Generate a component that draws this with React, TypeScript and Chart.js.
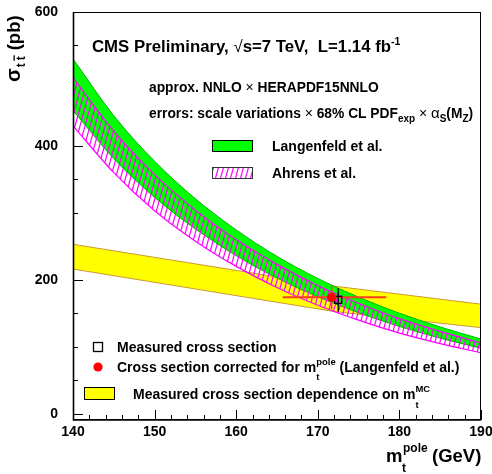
import React, { useEffect, useRef } from "react";
import { Chart, registerables } from "chart.js";

Chart.register(...registerables);

// ---- data ----
const massGrid = [140, 145, 150, 155, 160, 165, 170, 175, 180, 185, 190];
const langenfeldHigh = [530, 445, 377, 321, 274.5, 235, 202, 174, 150, 129.5, 111.5];
const langenfeldLow = [453, 381, 323, 276, 236, 202.6, 174.6, 150.8, 130.3, 112.8, 97.6];
const ahrensHigh = [502, 422, 357, 304, 260, 223, 191.5, 165, 142, 123, 105.7];
const ahrensLow = [430, 360, 303, 257.6, 220, 188.5, 162, 139.6, 120.3, 104.7, 91];

const mcMass = [140, 172, 190];
const measuredHigh = [253, 190.5, 163.5];
const measuredLow = [216, 152.5, 128.5];

const measuredPoint = { x: 172.5, y: 170, yLow: 152.5, yHigh: 187.5 };
const correctedPoint = { x: 171.7, y: 173.7, xLow: 165.7, xHigh: 178.4, yLow: 156, yHigh: 191 };

const xTickValues = [140, 150, 160, 170, 180, 190];
const yTickValues = [0, 200, 400, 600];

const FONT = '"Liberation Sans", Arial, Helvetica, sans-serif';

function pts(xs: number[], ys: number[]) {
  return xs.map((x, i) => ({ x, y: ys[i] }));
}

function makeHatch(): CanvasPattern | string {
  const c = document.createElement("canvas");
  const w = 5;
  const h = 18;
  c.width = w;
  c.height = h;
  const g = c.getContext("2d");
  if (!g) return "rgba(255,0,255,0.3)";
  g.strokeStyle = "#ff00ff";
  g.lineWidth = 1.2;
  for (const k of [-1, 0, 1]) {
    g.beginPath();
    g.moveTo(k * w, h);
    g.lineTo(k * w + w, 0);
    g.stroke();
  }
  return g.createPattern(c, "repeat") as CanvasPattern;
}

type Seg = { t: string; s: number; dy?: number; w?: string; adv?: number };

function drawRich(ctx: CanvasRenderingContext2D, x: number, y: number, segs: Seg[]) {
  let cx = x;
  for (const g of segs) {
    ctx.font = `${g.w ?? "bold"} ${g.s}px ${FONT}`;
    ctx.fillText(g.t, cx, y + (g.dy ?? 0));
    cx += g.adv !== undefined ? g.adv : ctx.measureText(g.t).width;
  }
  return cx;
}

function width(ctx: CanvasRenderingContext2D, t: string, s: number, w = "bold") {
  ctx.font = `${w} ${s}px ${FONT}`;
  return ctx.measureText(t).width;
}

function zeroPad(s: any) {
  s.paddingTop = 0;
  s.paddingBottom = 0;
  s.paddingLeft = 0;
  s.paddingRight = 0;
}

export default function App() {
  const ref = useRef<HTMLCanvasElement | null>(null);

  useEffect(() => {
    const canvas = ref.current;
    if (!canvas) return;
    const hatch = makeHatch();

    const decor = {
      id: "decor",
      beforeDatasetsDraw(chart: any) {
        const { ctx, chartArea } = chart;
        const xs = chart.scales.x;
        const ys = chart.scales.y;
        ctx.save();
        ctx.strokeStyle = "#000";
        ctx.lineWidth = 1;
        for (let v = 0; v <= 600; v += 50) {
          const py = Math.round(ys.getPixelForValue(v)) + 0.5;
          const len = v % 200 === 0 ? 10 : 5;
          ctx.beginPath();
          ctx.moveTo(chartArea.left, py);
          ctx.lineTo(chartArea.left + len, py);
          ctx.stroke();
        }
        for (let v = 140; v <= 190; v += 2) {
          const px = Math.round(xs.getPixelForValue(v)) + 0.5;
          const len = v % 10 === 0 ? 10 : 5;
          ctx.beginPath();
          ctx.moveTo(px, chartArea.bottom);
          ctx.lineTo(px, chartArea.bottom - len);
          ctx.stroke();
        }
        ctx.restore();
      },
      afterDatasetsDraw(chart: any) {
        const { ctx, chartArea } = chart;
        ctx.save();
        ctx.strokeStyle = "#000";
        ctx.lineWidth = 1;
        ctx.strokeRect(chartArea.left + 0.5, chartArea.top + 0.5, chartArea.right - chartArea.left - 1, chartArea.bottom - chartArea.top - 1);
        ctx.lineWidth = 1.6;
        ctx.beginPath();
        ctx.moveTo(chartArea.left + 0.5, chartArea.top);
        ctx.lineTo(chartArea.left + 0.5, chartArea.bottom);
        ctx.lineTo(chartArea.right, chartArea.bottom);
        ctx.stroke();
        ctx.restore();
      },
      afterDraw(chart: any) {
        const ctx: CanvasRenderingContext2D = chart.ctx;
        ctx.save();
        ctx.fillStyle = "#000";
        ctx.textBaseline = "alphabetic";
        ctx.textAlign = "left";

        // header
        drawRich(ctx, 92, 52, [
          { t: "CMS Preliminary, ", s: 16.8 },
          { t: "√", s: 16.8, w: "normal" },
          { t: "s=7 TeV,  L=1.14 fb", s: 16.8 },
          { t: "-1", s: 10.5, dy: -7 },
        ]);
        drawRich(ctx, 149, 92, [
          { t: "approx. NNLO ", s: 13.8 },
          { t: "×", s: 14, w: "normal" },
          { t: " HERAPDF15NNLO", s: 13.8 },
        ]);
        drawRich(ctx, 149, 118, [
          { t: "errors: scale variations ", s: 13.8 },
          { t: "×", s: 14, w: "normal" },
          { t: " 68% CL PDF", s: 13.8 },
          { t: "exp", s: 10, dy: 4 },
          { t: " ", s: 13.8 },
          { t: "×", s: 14, w: "normal" },
          { t: " ", s: 13.8 },
          { t: "α", s: 15, w: "normal" },
          { t: "S", s: 10, dy: 4 },
          { t: "(M", s: 13.8 },
          { t: "Z", s: 10, dy: 4 },
          { t: ")", s: 13.8 },
        ]);

        // theory legend
        ctx.fillStyle = "#00ff00";
        ctx.fillRect(212, 140, 41, 12);
        ctx.strokeStyle = "#000";
        ctx.lineWidth = 1;
        ctx.strokeRect(212.5, 140.5, 40, 11);
        ctx.fillStyle = hatch as any;
        ctx.fillRect(212, 167, 41, 12);
        ctx.strokeStyle = "#333";
        ctx.strokeRect(212.5, 167.5, 40, 11);
        ctx.fillStyle = "#000";
        drawRich(ctx, 272, 151, [{ t: "Langenfeld et al.", s: 14 }]);
        drawRich(ctx, 272, 178, [{ t: "Ahrens et al.", s: 14 }]);

        // measurement legend
        ctx.strokeStyle = "#000";
        ctx.lineWidth = 1.3;
        ctx.strokeRect(93.5, 342.5, 9, 9);
        ctx.fillStyle = "#ff0000";
        ctx.beginPath();
        ctx.arc(98, 367, 4.6, 0, Math.PI * 2);
        ctx.fill();
        ctx.fillStyle = "#ffff00";
        ctx.fillRect(84, 387, 31, 13);
        ctx.strokeStyle = "#000";
        ctx.lineWidth = 1;
        ctx.strokeRect(84.5, 387.5, 30, 12);
        ctx.fillStyle = "#000";
        drawRich(ctx, 117, 352, [{ t: "Measured cross section", s: 14 }]);
        let x = drawRich(ctx, 117, 372, [{ t: "Cross section corrected for m", s: 14 }]);
        const pw = width(ctx, "pole", 9.5);
        drawRich(ctx, x, 365, [{ t: "pole", s: 9.5 }]);
        drawRich(ctx, x, 380, [{ t: "t", s: 9.5 }]);
        drawRich(ctx, x + pw, 372, [{ t: " (Langenfeld et al.)", s: 14 }]);
        x = drawRich(ctx, 133, 399, [{ t: "Measured cross section dependence on m", s: 14 }]);
        drawRich(ctx, x, 392, [{ t: "MC", s: 9.5 }]);
        drawRich(ctx, x, 408, [{ t: "t", s: 9.5 }]);

        // x axis title
        drawRich(ctx, 386, 462, [{ t: "m", s: 18.5 }]);
        drawRich(ctx, 403, 452, [{ t: "pole", s: 12 }]);
        drawRich(ctx, 402, 472, [{ t: "t", s: 12 }]);
        drawRich(ctx, 432, 462, [{ t: "(GeV)", s: 18.5 }]);

        // y axis title (rotated)
        ctx.translate(19.5, 82);
        ctx.rotate(-Math.PI / 2);
        let yx = drawRich(ctx, 0, 0, [{ t: "σ", s: 20 }]);
        const tw = width(ctx, "t", 12);
        drawRich(ctx, yx + 1, 5, [{ t: "t", s: 12 }]);
        yx += tw + 4;
        drawRich(ctx, yx, 5, [{ t: "t", s: 12 }]);
        ctx.fillRect(yx - 0.5, 5 - 11, tw + 1.5, 1.3);
        yx += tw + 6;
        drawRich(ctx, yx, 0, [{ t: "(pb)", s: 18.5 }]);
        ctx.restore();
      },
    };

    const line = (d: any[], color: string, extra: any = {}) => ({
      data: d,
      borderColor: color,
      borderWidth: 1,
      pointRadius: 0,
      fill: false,
      cubicInterpolationMode: "monotone",
      ...extra,
    });

    const chart = new Chart(canvas, {
      type: "line",
      data: {
        datasets: [
          line(pts(massGrid, langenfeldHigh), "#00b400", { fill: "+1", backgroundColor: "#00ff00", order: 8 }),
          line(pts(massGrid, langenfeldLow), "#00b400", { order: 7.5 }),
          line(pts(massGrid, ahrensHigh), "#ff00ff", { fill: "+1", backgroundColor: hatch, order: 6, borderWidth: 1.2 }),
          line(pts(massGrid, ahrensLow), "#ff00ff", { order: 5.5, borderWidth: 1.2 }),
          line(pts(mcMass, measuredHigh), "#cc9933", { fill: "+1", backgroundColor: "#ffff00", order: 10, tension: 0, cubicInterpolationMode: "default" }),
          line(pts(mcMass, measuredLow), "#cc9933", { order: 9.5, tension: 0, cubicInterpolationMode: "default" }),
          line(
            [
              { x: correctedPoint.xLow, y: correctedPoint.y },
              { x: correctedPoint.xHigh, y: correctedPoint.y },
            ],
            "#ff3c1e",
            { borderWidth: 2, order: 2 }
          ),
          line(
            [
              { x: correctedPoint.x, y: correctedPoint.yHigh },
              { x: correctedPoint.x, y: correctedPoint.yLow },
            ],
            "#ff3c1e",
            { borderWidth: 1.6, order: 2 }
          ),
          line(
            [
              { x: measuredPoint.x, y: measuredPoint.yHigh },
              { x: measuredPoint.x, y: measuredPoint.yLow },
            ],
            "#000000",
            { borderWidth: 1.3, order: 1 }
          ),
          {
            data: [{ x: correctedPoint.x, y: correctedPoint.y }],
            showLine: false,
            pointRadius: 4.6,
            pointStyle: "circle",
            pointBackgroundColor: "#ff0000",
            pointBorderWidth: 0,
            borderColor: "#ff0000",
            order: 0,
          },
          {
            data: [{ x: measuredPoint.x, y: measuredPoint.y }],
            showLine: false,
            pointRadius: 5,
            pointStyle: "rect",
            pointBackgroundColor: "rgba(0,0,0,0)",
            pointBorderColor: "#000",
            pointBorderWidth: 1.3,
            order: 0,
          },
        ] as any,
      },
      options: {
        responsive: false,
        animation: false,
        layout: { padding: { top: 12, right: 11, left: 0, bottom: 0 } },
        plugins: {
          legend: { display: false },
          tooltip: { enabled: false },
        },
        scales: {
          x: {
            type: "linear",
            min: 140,
            max: 190,
            grid: { display: false, drawTicks: false },
            border: { display: false },
            ticks: {
              color: "#000",
              padding: 4,
              maxRotation: 0,
              font: { family: FONT, size: 14, weight: "bold" },
            },
            afterBuildTicks: (s: any) => {
              s.ticks = xTickValues.map((v) => ({ value: v }));
            },
            afterFit: (s: any) => {
              s.height = 54;
              zeroPad(s);
            },
          },
          y: {
            type: "linear",
            min: -9.5,
            max: 600,
            grid: { display: false, drawTicks: false },
            border: { display: false },
            ticks: {
              color: "#000",
              padding: 15,
              font: { family: FONT, size: 14, weight: "bold" },
            },
            afterBuildTicks: (s: any) => {
              s.ticks = yTickValues.map((v) => ({ value: v }));
            },
            afterFit: (s: any) => {
              s.width = 73;
              zeroPad(s);
            },
          },
        },
      } as any,
      plugins: [decor],
    });

    return () => chart.destroy();
  }, []);

  return (
    <canvas
      ref={ref}
      width={492}
      height={474}
      style={{ position: "fixed", left: 0, top: 0, width: 492, height: 474 }}
    />
  );
}
